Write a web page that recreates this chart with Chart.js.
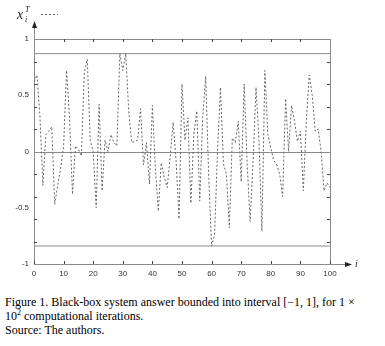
<!DOCTYPE html>
<html>
<head>
<meta charset="utf-8">
<script src="https://cdn.jsdelivr.net/npm/chart.js@4"></script>
<style>
  html,body{margin:0;padding:0;background:#fff;}
  #wrap{position:relative;width:385px;height:280px;}
  #caption{font-family:"Liberation Serif","Times New Roman",serif;font-size:12px;line-height:14px;color:#000;margin:15px 0 0 5px;}
  #caption sup{font-size:8px;line-height:0;}
</style>
</head>
<body>
<div id="wrap"><canvas id="chart" width="385" height="280"></canvas></div>
<div id="caption">Figure 1. Black-box system answer bounded into interval [−1, 1], for 1 ×<br>10<sup>2</sup> computational iterations.<br>Source: The authors.</div>
<script>
// iteration index i = 0..100
const iterations = [];
for (let i = 0; i <= 100; i++) iterations.push(i);

// black-box answer x_i^T
const answer = [
  0.62, 0.68, 0.32, -0.30, 0.15, 0.18, 0.22, -0.47, -0.30, -0.15,
  0.05, 0.72, 0.30, -0.38, 0.05, 0.02, -0.04, 0.70, 0.82, 0.10,
  0.00, -0.50, 0.42, -0.35, 0.10, 0.00, 0.15, 0.08, 0.05, 0.87,
  0.72, 0.87, 0.36, 0.08, 0.09, 0.10, 0.38, -0.12, 0.08, -0.29,
  0.41, -0.15, -0.53, -0.10, -0.23, -0.32, -0.05, 0.26, -0.08, -0.60,
  0.60, 0.10, 0.30, -0.46, 0.15, 0.36, -0.44, 0.30, 0.67, -0.20,
  -0.84, -0.74, 0.00, 0.57, -0.11, -0.20, -0.68, 0.12, 0.08, 0.27,
  -0.27, 0.60, -0.10, -0.62, -0.10, 0.57, 0.10, -0.71, 0.72, 0.15,
  0.03, -0.08, -0.12, -0.20, -0.40, 0.47, 0.00, 0.41, 0.27, 0.09,
  0.18, -0.35, 0.27, 0.68, 0.50, 0.18, 0.20, 0.00, -0.35, -0.28,
  -0.32
];

// max / min bounds drawn as horizontal lines
const upperBound = 0.87;
const lowerBound = -0.84;

const xTicks = [0, 10, 20, 30, 40, 50, 60, 70, 80, 90, 100];
const yLabels = [-1, -0.5, 0, 0.5, 1];
const yMinorTicks = [-0.8, -0.6, -0.4, -0.2, 0, 0.2, 0.4, 0.6, 0.8];

const pts = iterations.map((i, k) => ({x: i, y: answer[k]}));
const boundLine = v => [{x: 0, y: v}, {x: 100, y: v}];

// frame, arrows, inward ticks and legend
const framePlugin = {
  id: "frame",
  beforeDatasetsDraw(chart) {
    const {ctx, chartArea: a, scales: {x, y}} = chart;
    ctx.save();
    ctx.strokeStyle = "#8a8a8a";
    ctx.lineWidth = 1;
    ctx.beginPath();
    // top and right border
    ctx.moveTo(a.left, Math.round(a.top) + 0.5);
    ctx.lineTo(a.right, Math.round(a.top) + 0.5);
    ctx.moveTo(Math.round(a.right) + 0.5, a.top);
    ctx.lineTo(Math.round(a.right) + 0.5, a.bottom);
    // left axis up to arrow
    ctx.moveTo(Math.round(a.left) + 0.5, a.bottom);
    ctx.lineTo(Math.round(a.left) + 0.5, 26);
    // bottom axis to arrow
    ctx.moveTo(a.left, Math.round(a.bottom) + 0.5);
    ctx.lineTo(346, Math.round(a.bottom) + 0.5);
    ctx.stroke();

    ctx.strokeStyle = "#444";
    ctx.beginPath();
    xTicks.forEach(v => {
      const px = Math.round(x.getPixelForValue(v)) + 0.5;
      if (v > 0 && v < 100) {
        ctx.moveTo(px, a.top); ctx.lineTo(px, a.top + 3);
      }
      ctx.moveTo(px, a.bottom); ctx.lineTo(px, a.bottom - 3);
    });
    yMinorTicks.forEach(v => {
      const py = Math.round(y.getPixelForValue(v)) + 0.5;
      ctx.moveTo(a.left, py); ctx.lineTo(a.left + 3, py);
      ctx.moveTo(a.right, py); ctx.lineTo(a.right - 3, py);
    });
    ctx.stroke();

    // zero line
    ctx.strokeStyle = "#8a8a8a";
    ctx.beginPath();
    const y0 = Math.round(y.getPixelForValue(0)) + 0.5;
    ctx.moveTo(a.left, y0); ctx.lineTo(a.right, y0);
    ctx.stroke();

    // arrows
    ctx.fillStyle = "#222";
    const lx = Math.round(a.left) + 0.5;
    ctx.beginPath();
    ctx.moveTo(lx, 21); ctx.lineTo(lx - 2.5, 28); ctx.lineTo(lx + 2.5, 28); ctx.closePath();
    ctx.fill();
    const by = Math.round(a.bottom) + 0.5;
    ctx.beginPath();
    ctx.moveTo(352, by); ctx.lineTo(345, by - 2.5); ctx.lineTo(345, by + 2.5); ctx.closePath();
    ctx.fill();

    // axis name i
    ctx.fillStyle = "#222";
    ctx.font = "italic 10px 'Liberation Serif', serif";
    ctx.textAlign = "left";
    ctx.textBaseline = "alphabetic";
    ctx.fillText("i", 355, a.bottom + 3);

    // legend x_i^T with dashed sample
    ctx.font = "italic 14px 'Liberation Serif', serif";
    ctx.fillText("x", 17, 19);
    ctx.font = "italic 8px 'Liberation Serif', serif";
    ctx.fillText("T", 25, 12);
    ctx.fillText("i", 25, 22);
    ctx.strokeStyle = "#666";
    ctx.setLineDash([2, 2]);
    ctx.beginPath();
    ctx.moveTo(41, 14.5); ctx.lineTo(58, 14.5);
    ctx.stroke();
    ctx.restore();
  }
};

new Chart(document.getElementById("chart"), {
  type: "line",
  data: {
    datasets: [
      {data: pts, borderColor: "#666", borderWidth: 1, borderDash: [2, 2], pointRadius: 0, tension: 0, fill: false},
      {data: boundLine(upperBound), borderColor: "#8a8a8a", borderWidth: 1, pointRadius: 0, fill: false},
      {data: boundLine(lowerBound), borderColor: "#8a8a8a", borderWidth: 1, pointRadius: 0, fill: false}
    ]
  },
  options: {
    responsive: false,
    animation: false,
    events: [],
    layout: {padding: {left: 0, right: 55, top: 39, bottom: 0}},
    plugins: {legend: {display: false}, tooltip: {enabled: false}},
    scales: {
      x: {
        type: "linear", min: 0, max: 100,
        afterBuildTicks: s => { s.ticks = xTicks.map(v => ({value: v})); },
        afterFit: s => { s.height = 16; },
        grid: {display: false, drawTicks: false},
        border: {display: false},
        ticks: {font: {family: "'Liberation Sans', sans-serif", size: 8}, color: "#333", padding: 5, maxRotation: 0}
      },
      y: {
        type: "linear", min: -1, max: 1,
        afterBuildTicks: s => { s.ticks = yLabels.map(v => ({value: v})); },
        afterFit: s => { s.width = 34; },
        grid: {display: false, drawTicks: false},
        border: {display: false},
        ticks: {font: {family: "'Liberation Sans', sans-serif", size: 8}, color: "#333", padding: 5,
          callback: v => String(v)}
      }
    }
  },
  plugins: [framePlugin]
});
</script>
</body>
</html>
